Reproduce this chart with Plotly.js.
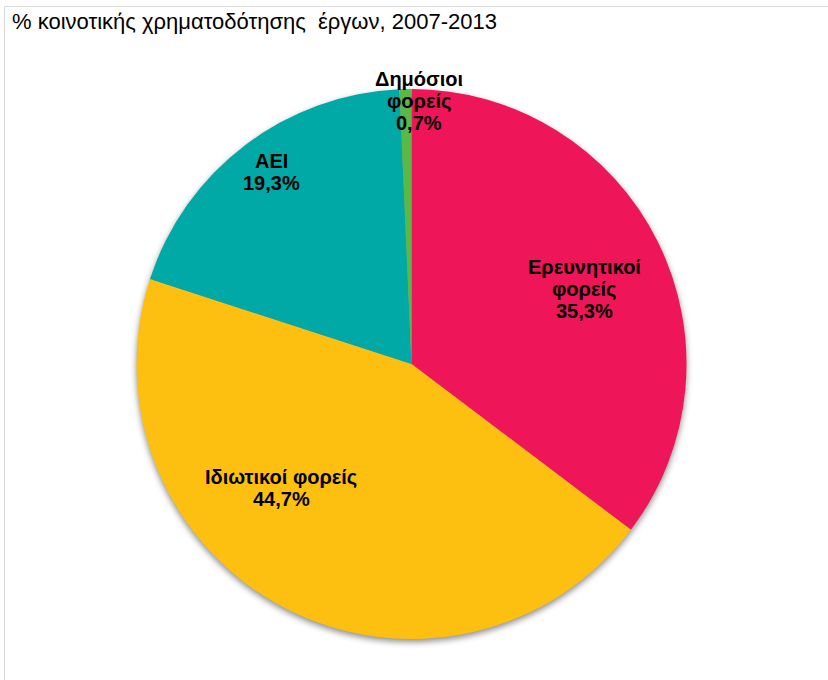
<!DOCTYPE html>
<html>
<head>
<meta charset="utf-8">
<script src="https://cdn.plot.ly/plotly-3.0.1.min.js"></script>
<style>
  html, body { margin: 0; padding: 0; background: #fff; }
  #chart { width: 828px; height: 680px; }
  .pielayer { filter: drop-shadow(0px 3px 3px rgba(0,0,0,0.45)); }
</style>
</head>
<body>
<div id="chart"></div>
<script>
// ---- data ----
const categories = ["Ερευνητικοί φορείς", "Ιδιωτικοί φορείς", "ΑΕΙ", "Δημόσιοι φορείς"];
const displayLabels = ["Ερευνητικοί<br>φορείς", "Ιδιωτικοί φορείς", "ΑΕΙ", "Δημόσιοι<br>φορείς"];
const shares = [35.3, 44.7, 19.3, 0.7];
const sliceColors = ["#EE1558", "#FEC010", "#00A9A6", "#59B947"];
const chartTitle = "% κοινοτικής χρηματοδότησης  έργων, 2007-2013";

// ---- label placement (pixel centre of the first line; lines 22px apart) ----
const labelPos = [[584, 267], [281, 477], [271, 161], [419, 79]];
const lineGap = 22;

const W = 828, H = 680;
const cx = 411.5, cy = 364, R = 275;

const trace = {
  type: "pie",
  values: shares,
  labels: categories,
  marker: { colors: sliceColors, line: { width: 0 } },
  sort: false,
  direction: "clockwise",
  rotation: 0,
  textinfo: "none",
  hoverinfo: "label+percent",
  showlegend: false,
  domain: { x: [(cx - R) / W, (cx + R) / W], y: [(H - cy - R) / H, (H - cy + R) / H] }
};

const fmt = v => v.toFixed(1).replace(".", ",") + "%";

const annotations = [];
displayLabels.forEach((lab, i) => {
  const lines = lab.split("<br>").concat([fmt(shares[i])]);
  lines.forEach((ln, k) => {
    annotations.push({
      text: "<b>" + ln + "</b>",
      x: labelPos[i][0] / W,
      y: 1 - (labelPos[i][1] + k * lineGap) / H,
      xref: "paper", yref: "paper",
      xanchor: "center", yanchor: "middle",
      showarrow: false,
      align: "center",
      font: { family: "Liberation Sans, Arial, sans-serif", size: 20, color: "#000" }
    });
  });
});

const layout = {
  width: W, height: H,
  margin: { l: 0, r: 0, t: 0, b: 0 },
  paper_bgcolor: "#fff",
  title: {
    text: chartTitle,
    x: 12 / W, xanchor: "left", xref: "paper",
    y: 1 - 21 / H, yanchor: "middle", yref: "paper",
    font: { family: "Liberation Sans, Arial, sans-serif", size: 22, color: "#000" }
  },
  annotations: annotations,
  shapes: [
    { type: "line", xref: "paper", yref: "paper", x0: 4.5 / W, x1: 1, y0: 1 - 6.5 / H, y1: 1 - 6.5 / H, line: { color: "#D9D9D9", width: 1 } },
    { type: "line", xref: "paper", yref: "paper", x0: 4.5 / W, x1: 4.5 / W, y0: 0, y1: 1 - 6.5 / H, line: { color: "#D9D9D9", width: 1 } }
  ]
};

Plotly.newPlot("chart", [trace], layout, { displayModeBar: false, staticPlot: true });
</script>
</body>
</html>
